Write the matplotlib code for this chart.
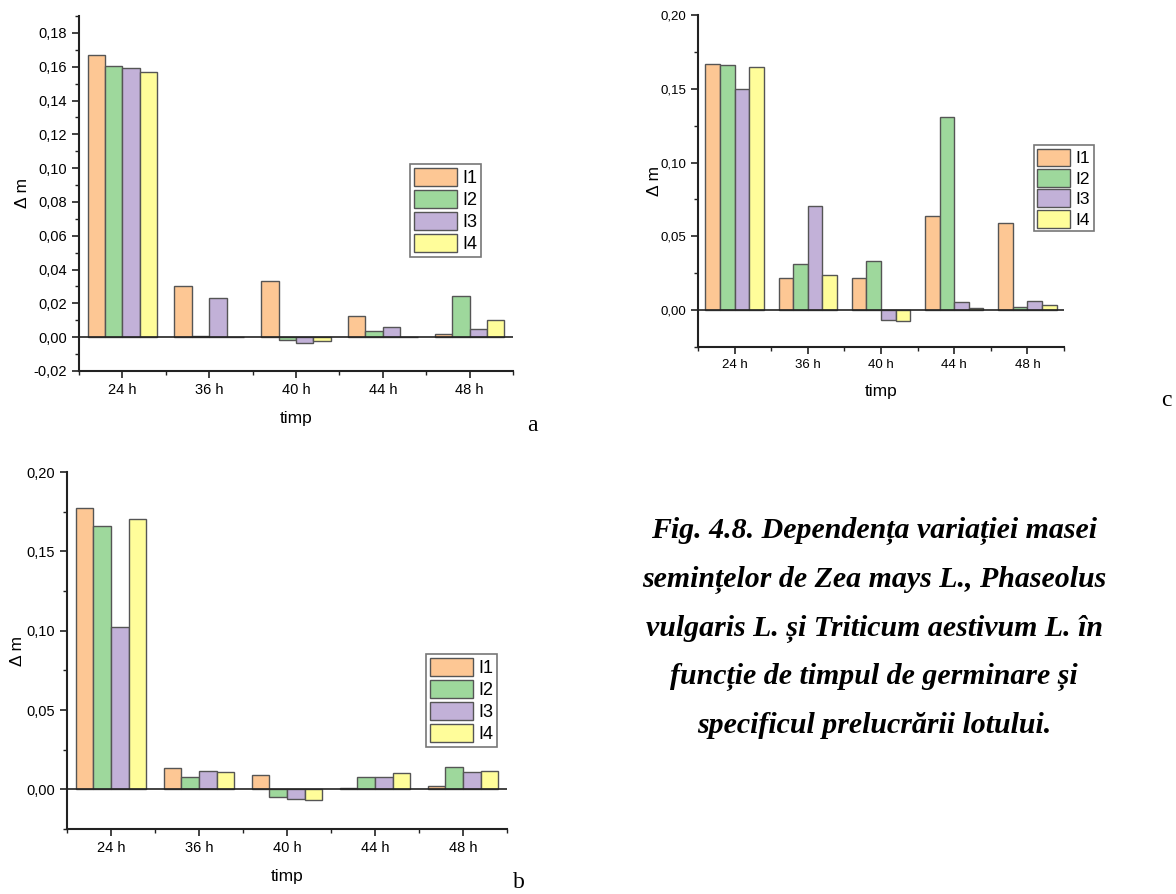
import numpy as np
import matplotlib.pyplot as plt
from matplotlib.ticker import MultipleLocator, FuncFormatter

# categorii si serii
timp = ['24 h', '36 h', '40 h', '44 h', '48 h']
loturi = ['I1', 'I2', 'I3', 'I4']

a_I1 = [0.1667, 0.0304, 0.0333, 0.0128, 0.0020]
a_I2 = [0.1604, 0.0006, -0.0014, 0.0036, 0.0245]
a_I3 = [0.1594, 0.0231, -0.0037, 0.0063, 0.0047]
a_I4 = [0.1566, 0.0, -0.0022, 0.0, 0.0101]

b_I1 = [0.1776, 0.0136, 0.0092, 0.0006, 0.0019]
b_I2 = [0.1657, 0.0075, -0.0046, 0.0079, 0.0138]
b_I3 = [0.1023, 0.0115, -0.0059, 0.0079, 0.0109]
b_I4 = [0.1705, 0.0111, -0.0069, 0.0100, 0.0115]

c_I1 = [0.1670, 0.0219, 0.0219, 0.0640, 0.0588]
c_I2 = [0.1663, 0.0310, 0.0333, 0.1310, 0.0023]
c_I3 = [0.1498, 0.0706, -0.0066, 0.0052, 0.0061]
c_I4 = [0.1649, 0.0240, -0.0072, 0.0011, 0.0032]

culori = ['#FDC794', '#9ED89C', '#C2B1D8', '#FFFD9A']

caption = ('Fig. 4.8. Dependența variației masei\n'
           'semințelor de Zea mays L., Phaseolus\n'
           'vulgaris L. și Triticum aestivum L. în\n'
           'funcție de timpul de germinare și\n'
           'specificul prelucrării lotului.')

W, H = 1176, 894
fig = plt.figure(figsize=(W / 100, H / 100), dpi=100)
plt.rcParams['font.family'] = ['Liberation Sans', 'DejaVu Sans']


def box(x0, y0, x1, y1):
    # pixeli -> coordonate figura
    return [x0 / W, 1 - y1 / H, (x1 - x0) / W, (y1 - y0) / H]


def panel(rect, serii, ylim, major, minor, leg_anchor, fs=10.5, lfs=13,
          hl=2.4, ypad=3, xpad=10):
    ax = fig.add_axes(rect)
    x = np.arange(len(timp))
    w = 0.2
    for i, (vals, lab) in enumerate(zip(serii, loturi)):
        ax.bar(x + (i - 1.5) * w, vals, w, color=culori[i], edgecolor='#555555',
               linewidth=1.0, label=lab, zorder=2)
    ax.axhline(0, color='#222222', linewidth=1.2, zorder=3)
    ax.set_xlim(-0.5, 4.5)
    ax.set_ylim(*ylim)
    ax.set_xticks(x)
    ax.set_xticklabels(timp, fontsize=fs)
    ax.set_xticks(np.arange(-0.5, 5, 1.0), minor=True)
    ax.yaxis.set_major_locator(MultipleLocator(major))
    ax.yaxis.set_minor_locator(MultipleLocator(minor))
    ax.yaxis.set_major_formatter(FuncFormatter(lambda v, p: '{:.2f}'.format(v).replace('.', ',')))
    ax.tick_params(axis='both', which='major', length=5, width=1.2, labelsize=fs, color='#222222')
    ax.tick_params(axis='both', which='minor', length=3, width=1.0, color='#222222')
    ax.tick_params(axis='x', pad=4)
    for s in ['top', 'right']:
        ax.spines[s].set_visible(False)
    for s in ['left', 'bottom']:
        ax.spines[s].set_linewidth(1.5)
        ax.spines[s].set_color('#222222')
    ax.set_xlabel('timp', fontsize=12.5, labelpad=xpad)
    ax.set_ylabel('Δ m', fontsize=12.5, labelpad=ypad)
    leg = ax.legend(loc='upper left', bbox_to_anchor=leg_anchor, fontsize=lfs,
                    frameon=True, fancybox=False, edgecolor='#555555',
                    handlelength=hl, handleheight=1.2, handletextpad=0.3,
                    borderpad=0.2, labelspacing=0.15, borderaxespad=0)
    leg.get_frame().set_linewidth(1.2)
    return ax


panel(box(79, 16, 513, 371), [a_I1, a_I2, a_I3, a_I4], (-0.02, 0.19),
      0.02, 0.01, (0.763, 0.583), ypad=3)
panel(box(67, 472, 507, 829), [b_I1, b_I2, b_I3, b_I4], (-0.025, 0.20),
      0.05, 0.025, (0.816, 0.49), ypad=1)
panel(box(698, 15, 1064, 347), [c_I1, c_I2, c_I3, c_I4], (-0.025, 0.20),
      0.05, 0.025, (0.918, 0.608), fs=9.5, lfs=12.5, hl=1.9, ypad=-1, xpad=9)

fig.text(532 / W, 1 - 425 / H, 'a', family='Liberation Serif', fontsize=17,
         ha='center', va='center')
fig.text(519 / W, 1 - 882 / H, 'b', family='Liberation Serif', fontsize=17,
         ha='center', va='center')
fig.text(1166 / W, 1 - 401 / H, 'c', family='Liberation Serif', fontsize=17,
         ha='center', va='center')

fig.text(874 / W, 1 - 628 / H, caption, family='Liberation Serif', fontsize=21.5,
         fontweight='bold', style='italic', ha='center', va='center',
         linespacing=1.98)

fig.savefig('out.png', dpi=100)
